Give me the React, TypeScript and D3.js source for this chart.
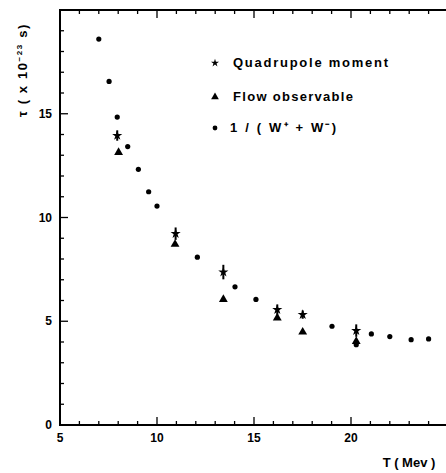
import React from "react";
import * as d3 from "d3";

const circleX = [7.0, 7.53, 7.95, 8.49, 9.04, 9.57, 10.0, 12.08, 14.02, 15.1, 19.02, 20.27, 21.05, 22.0, 23.1, 24.0];
const circleY = [18.6, 16.56, 14.84, 13.42, 12.32, 11.24, 10.55, 8.09, 6.66, 6.05, 4.76, 3.87, 4.39, 4.26, 4.11, 4.15];
const starX = [7.95, 10.96, 13.42, 16.2, 17.51, 20.27];
const starY = [13.95, 9.22, 7.37, 5.56, 5.32, 4.55];
const starErr = [0.25, 0.3, 0.35, 0.25, 0.2, 0.3];
const triX = [8.02, 10.93, 13.42, 16.2, 17.51, 20.27];
const triY = [13.14, 8.71, 6.05, 5.16, 4.48, 4.03];
const xMajor = [5, 10, 15, 20];
const yMajor = [0, 5, 10, 15];
const legendLabels = ["Quadrupole moment", "Flow observable", "1 / ( W\u207A + W\u207B)"];

const W = 446;
const H = 473;

export default function App() {
  const x = d3.scaleLinear().domain([5, 25]).range([60, 448]);
  const y = d3.scaleLinear().domain([0, 20]).range([425, 10]);
  const xMinor = d3.range(5, 25.01, 1);
  const yMinor = d3.range(0, 20.01, 1);
  const star = d3.symbol().type(d3.symbolStar).size(32)();
  const starSmall = d3.symbol().type(d3.symbolStar).size(20)();
  const tri = d3.symbol().type(d3.symbolTriangle).size(34)();
  const triSmall = d3.symbol().type(d3.symbolTriangle).size(26)();
  const font = "'Liberation Sans', Arial, sans-serif";
  const legendY = [63, 97, 128];
  const legendW = [155, 120, 106];

  return (
    <svg width={W} height={H} style={{ position: "absolute", left: 0, top: 0, background: "#fff" }} fontFamily={font}>
      <line x1={x(5)} x2={W} y1={y(20)} y2={y(20)} stroke="#000" strokeWidth={2} />
      <line x1={x(5)} x2={x(5)} y1={y(20) - 1} y2={y(0) + 1} stroke="#000" strokeWidth={2} />
      <line x1={x(5) - 1} x2={W} y1={y(0)} y2={y(0)} stroke="#000" strokeWidth={2} />
      {xMinor.map((v) => (
        <line key={"xm" + v} x1={x(v)} x2={x(v)} y1={y(0)} y2={y(0) - (xMajor.includes(v) ? 8 : 4)} stroke="#000" strokeWidth={1.3} />
      ))}
      {xMinor.map((v) => (
        <line key={"xt" + v} x1={x(v)} x2={x(v)} y1={y(20)} y2={y(20) + (xMajor.includes(v) ? 8 : 4)} stroke="#000" strokeWidth={1.3} />
      ))}
      {yMinor.map((v) => (
        <line key={"ym" + v} x1={x(5)} x2={x(5) + (yMajor.includes(v) ? 8 : 4)} y1={y(v)} y2={y(v)} stroke="#000" strokeWidth={1.3} />
      ))}
      {xMajor.map((v) => (
        <text key={"xl" + v} x={x(v)} y={y(0) + 17} textAnchor="middle" fontSize={12} fontWeight="bold">{v}</text>
      ))}
      {yMajor.map((v) => (
        <text key={"yl" + v} x={52} y={y(v) + 4} textAnchor="end" fontSize={12} fontWeight="bold">{v}</text>
      ))}
      <text transform="translate(27,70) rotate(-90)" textAnchor="middle" fontSize={13} fontWeight="bold" letterSpacing={1.6}>
        {"\u03C4 ( x 10"}
        <tspan dy={-5} fontSize={8}>{"\u221223"}</tspan>
        <tspan dy={5}>{" s)"}</tspan>
      </text>
      <text x={409} y={467} textAnchor="middle" fontSize={13} fontWeight="bold">T ( Mev )</text>
      {circleX.map((v, i) => (
        <circle key={"c" + i} cx={x(v)} cy={y(circleY[i])} r={2.6} fill="#000" />
      ))}
      {triX.map((v, i) => (
        <path key={"t" + i} d={tri} transform={`translate(${x(v)},${y(triY[i])})`} fill="#000" />
      ))}
      {starX.map((v, i) => (
        <g key={"s" + i}>
          <line x1={x(v)} x2={x(v)} y1={y(starY[i] - starErr[i])} y2={y(starY[i] + starErr[i])} stroke="#000" strokeWidth={2} />
          <path d={star} transform={`translate(${x(v)},${y(starY[i])})`} fill="#000" />
        </g>
      ))}
      <path d={starSmall} transform={`translate(215,${legendY[0]})`} fill="#000" />
      <path d={triSmall} transform={`translate(215,${legendY[1]})`} fill="#000" />
      <circle cx={215} cy={legendY[2]} r={2.4} fill="#000" />
      {legendLabels.map((t, i) => (
        <text key={"lg" + i} x={i === 2 ? 230 : 233} y={legendY[i] + 4} fontSize={13} fontWeight="bold" textLength={legendW[i]} lengthAdjust="spacing">{t}</text>
      ))}
    </svg>
  );
}
